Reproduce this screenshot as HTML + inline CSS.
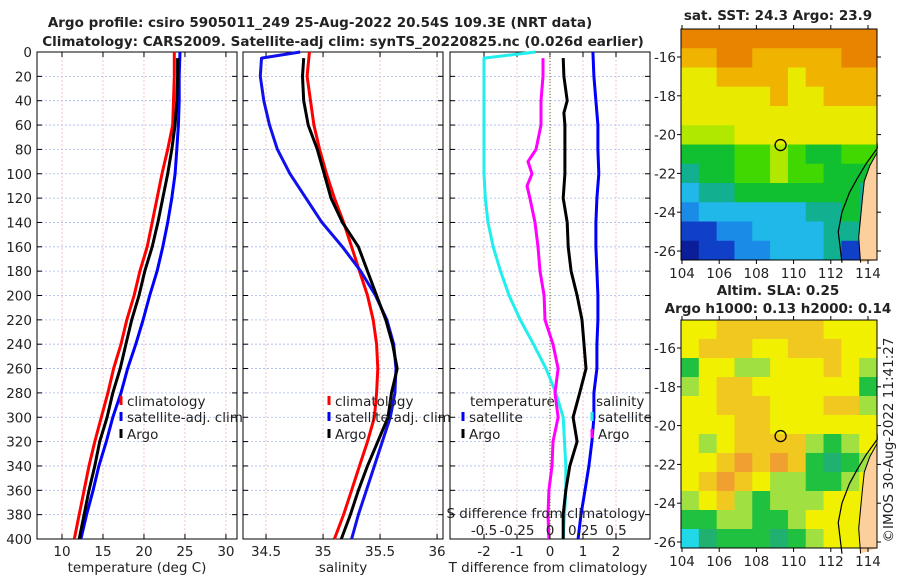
<!DOCTYPE html>
<html><head><meta charset="utf-8"><style>
body{margin:0;background:#fff;}
svg{display:block;font-family:"DejaVu Sans","Liberation Sans",sans-serif;}
</style></head><body>
<svg id="c" width="900" height="580" viewBox="0 0 900 580"></svg>
<script>
// ---------- data ----------
const depthTicks=[0,20,40,60,80,100,120,140,160,180,200,220,240,260,280,300,320,340,360,380,400];
const D=[0,20,40,60,80,100,120,140,160,180,200,220,240,260,280,300,320,340,360,380,400];
const tempClim=[23.7,23.7,23.6,23.5,22.9,22.2,21.6,21.0,20.4,19.5,18.8,17.9,17.2,16.3,15.6,14.8,14.0,13.3,12.7,12.1,11.5];
const tempSat=[24.4,24.3,24.3,24.2,24.0,23.8,23.4,22.9,22.3,21.6,20.7,19.9,19.0,18.0,17.2,16.2,15.4,14.5,13.8,13.0,12.3];
const tempArgoD=[5,20,40,60,80,100,120,140,160,180,200,220,240,260,280,300,320,340,360,380,400];
const tempArgo=[24.1,24.1,24.0,23.8,23.4,22.9,22.3,21.7,21.0,20.1,19.4,18.5,17.8,17.1,16.2,15.5,14.6,14.0,13.3,12.7,12.1];
const salClim=[34.88,34.86,34.89,34.92,34.97,35.03,35.10,35.18,35.25,35.32,35.39,35.44,35.47,35.48,35.47,35.45,35.39,35.32,35.25,35.18,35.10];
const salSatD=[0,5,20,40,60,80,100,120,140,160,180,200,220,240,260,280,300,320,340,360,380,400];
const salSat=[34.80,34.46,34.45,34.48,34.53,34.60,34.71,34.85,34.99,35.17,35.33,35.46,35.56,35.62,35.64,35.63,35.59,35.52,35.45,35.38,35.31,35.25];
const salArgoD=[5,20,40,60,80,100,120,140,160,180,200,220,240,260,280,300,320,340,360,380,400];
const salArgo=[34.83,34.82,34.83,34.87,34.95,35.01,35.07,35.17,35.31,35.39,35.47,35.55,35.61,35.65,35.60,35.57,35.48,35.39,35.31,35.24,35.16];
const tdiffArgoD=[5,20,40,50,60,80,100,120,140,160,180,200,220,240,260,280,300,320,340,360,380,400];
const tdiffArgo=[0.40,0.42,0.52,0.42,0.45,0.45,0.45,0.40,0.52,0.55,0.64,0.82,0.97,1.03,1.09,0.90,0.70,0.82,0.60,0.48,0.40,0.40];
const tdiffSat=[1.30,1.33,1.39,1.45,1.45,1.48,1.42,1.39,1.39,1.42,1.45,1.45,1.42,1.42,1.33,1.33,1.27,1.18,1.06,0.94,0.85];
const sdiffSatD=[0,5,20,40,60,80,100,120,140,160,180,200,220,240,260,280,300,320,340,360,380,400];
const sdiffSat=[-0.11,-0.50,-0.50,-0.50,-0.50,-0.50,-0.50,-0.49,-0.47,-0.43,-0.375,-0.31,-0.225,-0.125,-0.03,0.045,0.10,0.11,0.12,0.12,0.11,0.10];
const sdiffArgoD=[5,20,40,60,80,90,100,110,120,140,160,180,200,220,240,260,280,300,320,340,360,380,400];
const sdiffArgo=[-0.053,-0.053,-0.068,-0.068,-0.106,-0.167,-0.136,-0.174,-0.152,-0.114,-0.091,-0.076,-0.045,-0.038,0.023,0.061,0.038,0.061,0.023,0.015,-0.008,-0.015,-0.008];
const tTicks=[10,15,20,25,30];
const sTicks=[34.5,35,35.5,36];
const tdTicks=[-2,-1,0,1,2];
const sdTicks=[-0.5,-0.25,0,0.25,0.5];
const sdTickLabels=["-0.5","-0.25","0","0.25","0.5"];
// maps: rows lat -15..-26, cols lon 104..114 ; -1 = land
const sstGrid=[
[10,10,10,10,10,10,10,10,10,10,10],
[9,9,10,10,9,9,9,9,9,10,10],
[8,8,9,9,9,9,8,9,9,9,9],
[8,8,8,8,8,9,8,8,9,9,9],
[8,8,8,8,8,8,8,8,8,8,8],
[7,7,7,8,8,8,8,8,8,8,8],
[5,5,5,6,6,7,6,5,5,6,6],
[4,5,5,6,6,7,6,6,5,5,5],
[3,4,4,5,5,5,5,5,5,5,4],
[2,3,3,3,3,3,3,4,4,5,4],
[1,1,2,2,3,3,3,3,4,4,1],
[0,1,1,2,2,3,3,3,4,1,1]];
const slaGrid=[
[4,4,5,5,5,5,5,5,4,4,4],
[4,5,5,5,4,4,5,5,5,4,4],
[2,4,4,3,3,4,4,4,5,4,3],
[3,4,5,5,4,4,4,4,4,4,2],
[4,4,5,5,5,4,4,4,5,5,3],
[4,4,4,5,5,4,4,4,4,4,4],
[4,3,4,5,5,5,5,3,2,3,4],
[4,4,5,6,5,6,5,2,1,2,3],
[4,5,6,5,4,3,3,2,2,3,4],
[3,4,5,3,2,3,3,3,4,4,4],
[2,2,3,3,2,2,3,4,4,4,4],
[0,1,2,2,2,1,2,3,4,4,4]];
const coastLon=[114.5,113.9,113.4,113.0,112.6,112.4,112.6];
const coastLat=[-20.7,-21.5,-22.3,-23.0,-24.0,-25.0,-26.6];
const landLon=[114.5,114.1,113.8,113.7,113.6,113.5,113.6];
const landLat=[-20.9,-21.6,-22.4,-23.3,-24.3,-25.3,-26.6];
const argoLon=109.3, argoLat=-20.54;
const lonTicks=[104,106,108,110,112,114];
const latTicks=[-16,-18,-20,-22,-24,-26];

// ---------- drawing ----------
const NS="http://www.w3.org/2000/svg";
const svg=document.getElementById('c');
function mk(tag,attrs,parent){const e=document.createElementNS(NS,tag);for(const k in attrs)e.setAttribute(k,attrs[k]);(parent||svg).appendChild(e);return e;}
function txt(x,y,s,opt,parent){const t=mk('text',Object.assign({x:x,y:y,'font-size':13.5,fill:'#222'},opt||{}),parent);t.textContent=s;return t;}
const PT=52,PB=539;
const yD=d=>PT+(d/400)*(PB-PT);
const panels=[
 {x0:37,x1:237,min:6.95,max:31.35,name:'temperature-panel'},
 {x0:243,x1:443,min:34.298,max:36.052,name:'salinity-panel'},
 {x0:450,x1:650,min:-3.03,max:3.03,name:'difference-panel'}];
function xs(p,v){return p.x0+(v-p.min)/(p.max-p.min)*(p.x1-p.x0);}
function line(p,ds,vs,color,name){
  const pts=ds.map((d,i)=>xs(p,vs[i]).toFixed(1)+','+yD(d).toFixed(1)).join(' ');
  const e=mk('polyline',{points:pts,fill:'none',stroke:color,'stroke-width':3,'stroke-linejoin':'round'});
  
  
  return e;
}
let t1=txt(320,27,'Argo profile: csiro 5905011_249 25-Aug-2022 20.54S 109.3E (NRT data)',{'text-anchor':'middle','font-weight':'bold','font-size':13.5});

let t2=txt(343,46,'Climatology: CARS2009. Satellite-adj clim: synTS_20220825.nc (0.026d earlier)',{'text-anchor':'middle','font-weight':'bold','font-size':13.5});


panels.forEach((p,pi)=>{
  const g=mk('g',{});
  
  
  depthTicks.forEach(d=>{ if(d>0&&d<400) mk('line',{x1:p.x0,x2:p.x1,y1:yD(d),y2:yD(d),stroke:'#a8b8f0','stroke-width':0.8,'stroke-dasharray':'2,2'},g);});
  const ticks=pi==0?tTicks:pi==1?sTicks:tdTicks;
  ticks.forEach(v=>{const x=xs(p,v);mk('line',{x1:x,x2:x,y1:PT,y2:PB,stroke:'#f0b8b0','stroke-width':0.8,'stroke-dasharray':'2,2'},g);
    mk('line',{x1:x,x2:x,y1:PB,y2:PB-5,stroke:'#000'},g);mk('line',{x1:x,x2:x,y1:PT,y2:PT+5,stroke:'#000'},g);
    txt(x,556,String(v),{'text-anchor':'middle'},g);});
  depthTicks.forEach(d=>{mk('line',{x1:p.x0,x2:p.x0+5,y1:yD(d),y2:yD(d),stroke:'#000'},g);mk('line',{x1:p.x1,x2:p.x1-5,y1:yD(d),y2:yD(d),stroke:'#000'},g);});
  mk('rect',{x:p.x0,y:PT,width:p.x1-p.x0,height:PB-PT,fill:'none',stroke:'#000','stroke-width':1},g);
});
depthTicks.forEach(d=>{const e=txt(32,yD(d)+5,String(d),{'text-anchor':'end'});});
const P=panels;
line(P[0],D,tempClim,'#ff0000','temp-climatology-line');
line(P[0],D,tempSat,'#0000ff','temp-satellite-line');
line(P[0],tempArgoD,tempArgo,'#000000','temp-argo-line');
line(P[1],D,salClim,'#ff0000','sal-climatology-line');
line(P[1],salSatD,salSat,'#1010ee','sal-satellite-line');
line(P[1],salArgoD,salArgo,'#000000','sal-argo-line');
mk('line',{x1:xs(P[2],0),x2:xs(P[2],0),y1:PT,y2:PB,stroke:'#556b2f','stroke-width':1,'stroke-dasharray':'1,2'});
line(P[2],sdiffSatD,sdiffSat.map(v=>v*4),'#22eeee','sdiff-satellite-line');
line(P[2],sdiffArgoD,sdiffArgo.map(v=>v*4),'#ff00ff','sdiff-argo-line');
line(P[2],D,tdiffSat,'#0000ff','tdiff-satellite-line');
line(P[2],tdiffArgoD,tdiffArgo,'#000000','tdiff-argo-line');
sdTicks.forEach((v,i)=>{const x=xs(P[2],v*4);mk('line',{x1:x,x2:x,y1:PB,y2:PB-5,stroke:'#000'});const e=txt(x,535,sdTickLabels[i],{'text-anchor':'middle'});});
[['temperature (deg C)',137,'x-axis-title-temp'],['salinity',343,'x-axis-title-sal'],['T difference from climatology',548,'x-axis-title-tdiff']].forEach(a=>{const e=txt(a[1],572,a[0],{'text-anchor':'middle'});});
let sd=txt(546,518,'S difference from climatology',{'text-anchor':'middle'});
function leg(x,y,color,label,name){const g=mk('g',{});
  if(color)mk('line',{x1:x,x2:x,y1:y-10,y2:y-1,stroke:color,'stroke-width':3},g);txt(x+(color?6:0),y,label,{},g);}
leg(121,406,'#ff0000','climatology','legend-temp-climatology');
leg(121,422,'#0000ff','satellite-adj. clim','legend-temp-satellite');
leg(121,439,'#000','Argo','legend-temp-argo');
leg(329,406,'#ff0000','climatology','legend-sal-climatology');
leg(329,422,'#0000ff','satellite-adj. clim','legend-sal-satellite');
leg(329,439,'#000','Argo','legend-sal-argo');
leg(470,406,null,'temperature','legend-temp-header');
leg(463,422,'#0000ff','satellite','legend-tdiff-satellite');
leg(463,439,'#000','Argo','legend-tdiff-argo');
leg(596,406,null,'salinity','legend-sal-header');
leg(592,422,'#22eeee','satellite','legend-sdiff-satellite');
leg(592,439,'#ff00ff','Argo','legend-sdiff-argo');

const sstCols=['#0a1e9a','#1040c8','#1a8ce8','#20b8e8','#10b090','#10c030','#40d800','#b0e800','#e8ea00','#f0b400','#e88400'];
const slaCols=['#20d8e8','#20b070','#20c040','#a0e040','#f0f000','#f0c820','#f0a030'];
function map(y0,y1,grid,cols,name,title1,title2){
  const x0=681,x1=877;
  const g=mk('g',{});
  const lonX=l=>682+(l-104)*18.6;
  const latY=l=>(y0+28)+(-16-l)*19.4;
  const cw=(x1-x0)/11,ch=(y1-y0)/12;
  grid.forEach((row,r)=>row.forEach((v,c)=>{
    const e=mk('rect',{x:x0+c*cw,y:y0+r*ch,width:cw+0.5,height:ch+0.5,fill:cols[v]},g);
    
    
  }));
  const lp=landLon.map((l,i)=>lonX(l)+','+latY(landLat[i])).join(' ');
  mk('polygon',{points:lp+' '+x1+','+y1+' '+x1+','+latY(-20.9),fill:'#fccf9c'},g);
  const cp=coastLon.map((l,i)=>lonX(l)+','+latY(coastLat[i])).join(' ');
  mk('polyline',{points:x1+','+latY(-20.4)+' '+cp,fill:'none',stroke:'#000','stroke-width':1.2},g);
  mk('polyline',{points:lp,fill:'none',stroke:'#000','stroke-width':1},g);
  mk('circle',{cx:lonX(argoLon),cy:latY(argoLat),r:5.5,fill:'none',stroke:'#000','stroke-width':1.3},g);
  mk('rect',{x:x0,y:y0,width:x1-x0,height:y1-y0,fill:'none',stroke:'#000'},g);
  lonTicks.forEach(l=>{const x=lonX(l);mk('line',{x1:x,x2:x,y1:y1,y2:y1+4,stroke:'#000'},g);mk('line',{x1:x,x2:x,y1:y0,y2:y0-4,stroke:'#000'},g);txt(x,y1+18,String(l),{'text-anchor':'middle'},g);});
  latTicks.forEach(l=>{const y=latY(l);mk('line',{x1:x0,x2:x0-4,y1:y,y2:y,stroke:'#000'},g);mk('line',{x1:x1,x2:x1+4,y1:y,y2:y,stroke:'#000'},g);txt(676,y+5,String(l),{'text-anchor':'end'},g);});
  txt(778,title2?y0-25:y0-9,title1,{'text-anchor':'middle','font-weight':'bold'},g);
  if(title2)txt(778,y0-7,title2,{'text-anchor':'middle','font-weight':'bold'},g);
}
map(29,260,sstGrid,sstCols,'sst-map','sat. SST: 24.3 Argo: 23.9');
map(320,548,slaGrid,slaCols,'sla-map','Altim. SLA: 0.25','Argo h1000: 0.13 h2000: 0.14');
let cpx=txt(0,0,'©IMOS 30-Aug-2022 11:41:27',{'text-anchor':'middle',transform:'translate(893,440) rotate(-90)'});

</script>
</body></html>
